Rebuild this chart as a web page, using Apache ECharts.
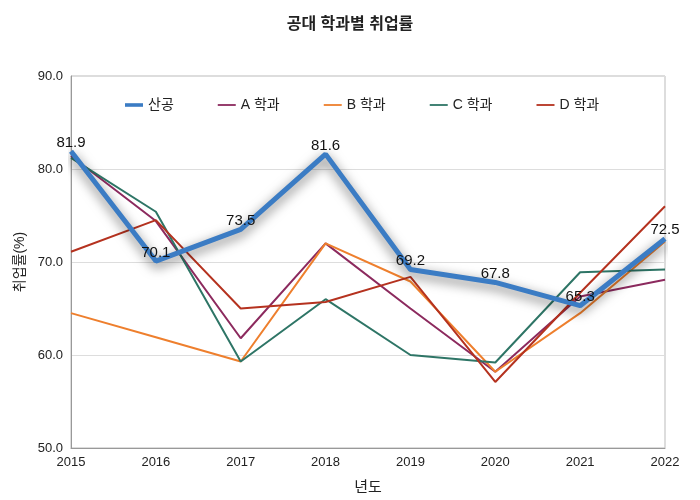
<!DOCTYPE html>
<html><head><meta charset="utf-8">
<script src="https://cdn.jsdelivr.net/npm/echarts@6/dist/echarts.min.js"></script>
<style>html,body{margin:0;padding:0;background:#fff}#c{width:700px;height:500px}</style>
</head><body><div id="c"></div>
<script>
const years = ['2015','2016','2017','2018','2019','2020','2021','2022'];
const sangong = [81.9, 70.1, 73.5, 81.6, 69.2, 67.8, 65.3, 72.5];
const deptA = [81.4, 74.4, 61.8, 72.0, 65.0, 58.2, 66.3, 68.1];
const deptB = [64.5, 61.9, 59.3, 72.0, 67.9, 58.2, 64.5, 72.2];
const deptC = [81.2, 75.4, 59.3, 66.0, 60.0, 59.2, 68.9, 69.2];
const deptD = [71.1, 74.5, 65.0, 65.7, 68.4, 57.1, 66.7, 76.0];
const names = ['산공', 'A 학과', 'B 학과', 'C 학과', 'D 학과'];
const colors = ['#3b7cc4', '#8c2a5e', '#ee7f2d', '#2e7566', '#b5321f'];
const FF = '"Liberation Sans","Noto Sans CJK KR",sans-serif';
const chart = echarts.init(document.getElementById('c'));
function dept(i, data) {
  return { name: names[i], type: 'line', data: data, symbol: 'none', z: 2,
    lineStyle: { width: 2, color: colors[i] }, itemStyle: { color: colors[i] } };
}
const thick = 'path://M0,0H20V4H0Z';
const thin = 'path://M0,0H20V2H0Z';
chart.setOption({
  animation: false,
  textStyle: { fontFamily: FF },
  title: { text: '공대 학과별 취업률', left: 'center', top: 12,
    textStyle: { fontSize: 16, fontWeight: 'bold', color: '#222', fontFamily: FF } },
  legend: { top: 93, left: 120, itemGap: 44, itemWidth: 18, itemHeight: 10,
    textStyle: { fontSize: 14, color: '#222', fontFamily: FF },
    data: names.map((n, i) => ({ name: n, icon: i === 0 ? thick : thin })) },
  grid: { left: 71, right: 35, top: 76, bottom: 52, show: true, borderColor: '#bbb', borderWidth: 1 },
  xAxis: { type: 'category', data: years, boundaryGap: false, name: '년도', nameLocation: 'middle', nameGap: 32,
    nameTextStyle: { fontSize: 15, color: '#222' },
    axisLine: { lineStyle: { color: '#999' } }, axisTick: { show: false },
    axisLabel: { color: '#222', fontSize: 13, margin: 8 }, splitLine: { show: false } },
  yAxis: { type: 'value', min: 50, max: 90, interval: 10, name: '취업률(%)', nameLocation: 'middle', nameGap: 38,
    nameTextStyle: { fontSize: 14, color: '#222' },
    axisLine: { show: true, lineStyle: { color: '#999' } }, axisTick: { show: false },
    axisLabel: { color: '#222', fontSize: 13, formatter: v => v.toFixed(1) },
    splitLine: { lineStyle: { color: '#ddd' } } },
  series: [
    { name: names[0], type: 'line', data: sangong, symbol: 'circle', symbolSize: 0.1, showSymbol: true, z: 5,
      lineStyle: { width: 5, color: colors[0], shadowColor: 'rgba(0,0,0,0.6)', shadowBlur: 12, shadowOffsetY: 4 },
      itemStyle: { color: colors[0] },
      label: { show: true, position: 'top', distance: 1, fontSize: 15, color: '#111', formatter: p => p.value.toFixed(1) } },
    dept(1, deptA), dept(2, deptB), dept(3, deptC), dept(4, deptD)
  ]
});
</script></body></html>
